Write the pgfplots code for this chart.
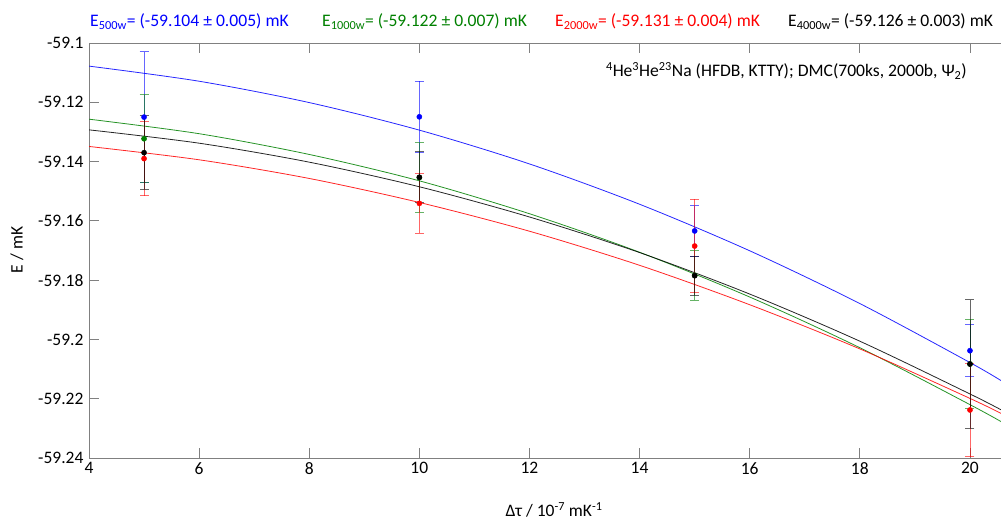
\documentclass[border=0pt]{standalone}
\usepackage{pgfplots}
\usepackage{pgfplotstable}
\pgfplotsset{compat=1.18}
\usepackage{fontspec}
\setmainfont{Carlito}
\definecolor{cblue}{RGB}{0,0,255}
\definecolor{cgreen}{RGB}{0,128,0}
\definecolor{cred}{RGB}{255,0,0}
\definecolor{axgray}{RGB}{128,128,128}

\pgfplotstableread{
x y e
5 -59.1250 0.0220
10 -59.1249 0.0120
15 -59.1634 0.0085
20 -59.2038 0.0087
}\bluedata
\pgfplotstableread{
x y e
5 -59.1323 0.0148
10 -59.1454 0.0117
15 -59.1784 0.0083
20 -59.2083 0.0150
}\greendata
\pgfplotstableread{
x y e
5 -59.1390 0.0125
10 -59.1541 0.0101
15 -59.1685 0.0158
20 -59.2238 0.0158
}\reddata
\pgfplotstableread{
x y e
5 -59.1370 0.0124
10 -59.1453 0.0086
15 -59.1785 0.0065
20 -59.2083 0.0217
}\blackdata

\begin{document}
\begin{tikzpicture}
\useasboundingbox (0,0) rectangle (1001pt,524pt);
\begin{axis}[
  at={(89pt,66pt)}, anchor=south west,
  scale only axis, width=914pt, height=415pt,
  xmin=4, xmax=20.6, ymin=-59.24, ymax=-59.1,
  xtick={4,6,...,20},
  ytick={-59.24,-59.22,-59.2,-59.18,-59.16,-59.14,-59.12,-59.1},
  yticklabels={-59.24,-59.22,-59.2,-59.18,-59.16,-59.14,-59.12,-59.1},
  ytick pos=left,
  tick align=inside,
  major tick length=10pt,
  axis line style={axgray, line width=0.9pt},
  every tick/.style={axgray, line width=0.9pt},
  tick label style={font=\fontsize{17.5}{17.5}\selectfont},
  /pgf/number format/assume math mode=true,
  yticklabel style={xshift=-2pt},
  xticklabel style={yshift=-1pt},
  error bars/error bar style={line width=0.9pt, opacity=0.6},
  error bars/error mark options={rotate=90, mark size=4.5pt, line width=0.9pt},
  clip=true,
]
% fitted curves
\addplot[cblue, line width=0.8pt, smooth, opacity=0.85] coordinates {
(4,-59.1078) (6,-59.1129) (8,-59.1201) (10,-59.1294) (12,-59.1408) (14,-59.1544) (16,-59.1701) (18,-59.1879) (20,-59.2078) (20.6,-59.2143)};
\addplot[cgreen, line width=0.8pt, smooth, opacity=0.85] coordinates {
(4,-59.1257) (6,-59.1306) (8,-59.1376) (10,-59.1465) (12,-59.1576) (14,-59.1706) (16,-59.1857) (18,-59.2028) (20,-59.2220) (20.6,-59.2281)};
\addplot[cred, line width=0.8pt, smooth, opacity=0.85] coordinates {
(4,-59.1349) (6,-59.1394) (8,-59.1457) (10,-59.1538) (12,-59.1635) (14,-59.1750) (16,-59.1883) (18,-59.2032) (20,-59.2199) (20.6,-59.2253)};
\addplot[black, line width=0.8pt, smooth, opacity=0.85] coordinates {
(4,-59.1293) (6,-59.1338) (8,-59.1402) (10,-59.1485) (12,-59.1587) (14,-59.1707) (16,-59.1847) (18,-59.2006) (20,-59.2184) (20.6,-59.2241)};
% data with error bars
\addplot[cblue, only marks, mark=*, mark size=2.6pt, error bars/.cd, y dir=both, y explicit] table[x=x, y=y, y error=e] {\bluedata};
\addplot[cgreen, only marks, mark=*, mark size=2.6pt, error bars/.cd, y dir=both, y explicit] table[x=x, y=y, y error=e] {\greendata};
\addplot[cred, only marks, mark=*, mark size=2.6pt, error bars/.cd, y dir=both, y explicit] table[x=x, y=y, y error=e] {\reddata};
\addplot[black, only marks, mark=*, mark size=2.6pt, error bars/.cd, y dir=both, y explicit] table[x=x, y=y, y error=e] {\blackdata};
\end{axis}
% titles
\node[anchor=base west, inner sep=0pt, text=cblue, font=\fontsize{17.6}{17.6}\selectfont] at (90pt,497pt) {E\textsubscript{500w}= (-59.104 ± 0.005) mK};
\node[anchor=base west, inner sep=0pt, text=cgreen, font=\fontsize{17.6}{17.6}\selectfont] at (322pt,497pt) {E\textsubscript{1000w}= (-59.122 ± 0.007) mK};
\node[anchor=base west, inner sep=0pt, text=cred, font=\fontsize{17.6}{17.6}\selectfont] at (555pt,497pt) {E\textsubscript{2000w}= (-59.131 ± 0.004) mK};
\node[anchor=base west, inner sep=0pt, text=black, font=\fontsize{17.6}{17.6}\selectfont] at (788pt,497pt) {E\textsubscript{4000w}= (-59.126 ± 0.003) mK};
\node[anchor=base east, inner sep=0pt, font=\fontsize{17.6}{17.6}\selectfont] at (967pt,447pt) {\textsuperscript{4}He\textsuperscript{3}He\textsuperscript{23}Na (HFDB, KTTY); DMC(700ks, 2000b, Ψ\textsubscript{2})};
\node[anchor=base, inner sep=0pt, font=\fontsize{17.5}{17.5}\selectfont] at (554pt,7pt) {Δτ / 10\textsuperscript{-7} mK\textsuperscript{-1}};
\node[rotate=90, inner sep=0pt, font=\fontsize{17.5}{17.5}\selectfont] at (17pt,274pt) {E / mK};
\end{tikzpicture}
\end{document}
